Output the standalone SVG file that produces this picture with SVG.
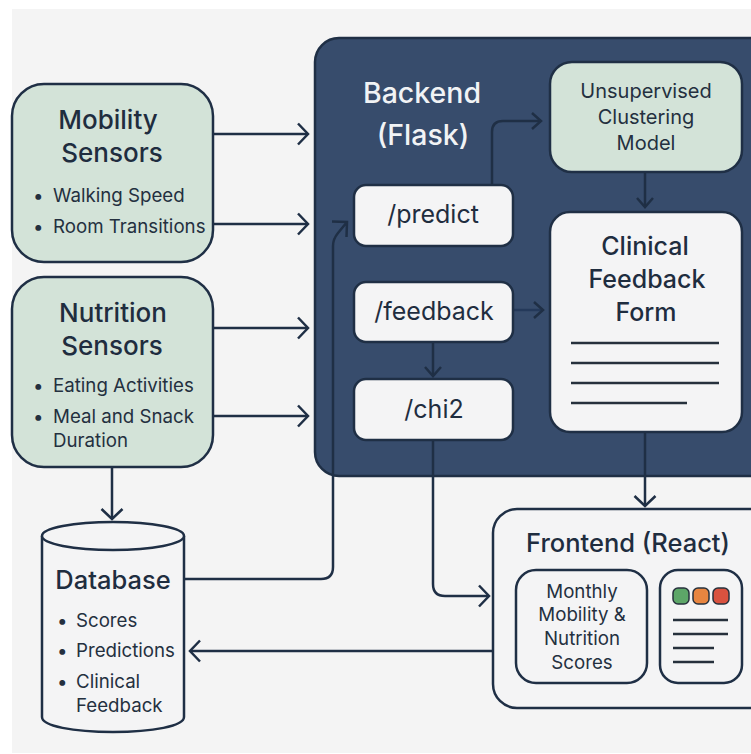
<svg xmlns="http://www.w3.org/2000/svg" width="751" height="754" viewBox="0 0 751 754">
<defs>
<style>
text{font-family:Inter,"Liberation Sans",sans-serif;fill:#24303f}
.t{font-size:26px;font-weight:500;text-anchor:middle;fill:#1f2d3f}
.b{font-size:18.7px}
.c{text-anchor:middle}
.m{font-size:20px}
.api{font-size:25px;text-anchor:middle;fill:#1f2d3f}
.w{font-size:28.5px;font-weight:500;text-anchor:middle;fill:#f1f3f5}
.box{stroke:#1f2f45;stroke-width:2.5}
.g{fill:#d3e3d8}
.l{fill:#f4f4f5}
.cn{fill:none;stroke:#1f2f45;stroke-width:2.5}
.ln{fill:none;stroke:#26303c;stroke-width:2.5}
</style>
<marker id="a" markerUnits="userSpaceOnUse" markerWidth="24" markerHeight="28" refX="21" refY="14" orient="auto"><path d="M11 3.5L21 14L11 24.5" fill="none" stroke="#1f2f45" stroke-width="2.5"/></marker>
<marker id="s" markerUnits="userSpaceOnUse" markerWidth="24" markerHeight="28" refX="21" refY="14" orient="auto"><path d="M12 6L21 14L12 22" fill="none" stroke="#1f2f45" stroke-width="2.5"/></marker>
</defs>
<rect width="751" height="754" fill="#ffffff"/>
<rect x="12" y="9" width="739" height="744" fill="#f4f4f4"/>
<g id="backend"><rect class="box" x="315" y="38" width="460" height="438" rx="24" fill="#374c6c"/>
<text class="w"><tspan x="422" y="103">Backend</tspan><tspan x="423" y="145">(Flask)</tspan></text></g>
<g id="connectors">
<path class="cn" marker-end="url(#a)" d="M213 134H308"/>
<path class="cn" marker-end="url(#a)" d="M213 224H308"/>
<path class="cn" marker-end="url(#a)" d="M213 328H308"/>
<path class="cn" marker-end="url(#a)" d="M213 416H308"/>
<path class="cn" marker-end="url(#a)" d="M112 467V519"/>
<path class="cn" d="M185 579H321Q333 579 333 567V246Q333 239 338 233L347 222M332 221.500L347 222L346.500 237"/>
<path class="cn" marker-end="url(#s)" d="M492 185V132Q492 121 503 121H541"/>
<path class="cn" marker-end="url(#s)" d="M514 310H543" style="stroke:#24395a"/>
<path class="cn" marker-end="url(#s)" d="M433 342V376"/>
<path class="cn" marker-end="url(#s)" d="M645 172V207"/>
<path class="cn" marker-end="url(#a)" d="M645 432V506"/>
<path class="cn" marker-end="url(#a)" d="M433 440V584Q433 596 445 596H489"/>
<path class="cn" marker-end="url(#a)" d="M493 651H190"/>
</g>
<g id="mobility"><rect class="box g" x="12" y="84" width="201" height="178" rx="32"/>
<text class="t"><tspan x="108" y="129">Mobility</tspan><tspan x="112" y="162">Sensors</tspan></text>
<text class="b"><tspan x="33" y="202">•</tspan><tspan x="53" y="202">Walking Speed</tspan></text>
<text class="b"><tspan x="33" y="233">•</tspan><tspan x="53" y="233">Room Transitions</tspan></text></g>
<g id="nutrition"><rect class="box g" x="12" y="277" width="201" height="190" rx="32"/>
<text class="t"><tspan x="113" y="322">Nutrition</tspan><tspan x="112" y="355">Sensors</tspan></text>
<text class="b"><tspan x="33" y="392">•</tspan><tspan x="53" y="392">Eating Activities</tspan></text>
<text class="b"><tspan x="33" y="423">•</tspan><tspan x="53" y="423">Meal and Snack</tspan><tspan x="53" y="447">Duration</tspan></text></g>
<g id="database"><path class="box" fill="#f4f4f5" d="M42 536V717C42 726 73 732 113 732S184 726 184 717V536"/>
<ellipse class="box" cx="113" cy="536" rx="71" ry="14" fill="#f4f4f5"/>
<text class="t" style="font-size:25.500px"><tspan x="113" y="589">Database</tspan></text>
<text class="b"><tspan x="57" y="627">•</tspan><tspan x="76" y="627">Scores</tspan></text>
<text class="b"><tspan x="57" y="657">•</tspan><tspan x="76" y="657">Predictions</tspan></text>
<text class="b"><tspan x="57" y="688">•</tspan><tspan x="76" y="688">Clinical</tspan><tspan x="76" y="712">Feedback</tspan></text></g>
<g id="predict"><rect class="box l" x="354" y="185" width="159" height="61" rx="12"/><text class="api" x="433" y="223">/predict</text></g>
<g id="feedback"><rect class="box l" x="354" y="282" width="159" height="60" rx="12"/><text class="api" x="434" y="320">/feedback</text></g>
<g id="chi2"><rect class="box l" x="354" y="379" width="159" height="61" rx="12"/><text class="api" x="434" y="418">/chi2</text></g>
<g id="model"><rect class="box g" x="550" y="62" width="192" height="110" rx="22"/>
<text class="m c"><tspan x="646" y="98">Unsupervised</tspan><tspan x="646" y="124">Clustering</tspan><tspan x="646" y="150">Model</tspan></text></g>
<g id="form"><rect class="box l" x="550" y="212" width="192" height="220" rx="20"/>
<text class="t" style="font-size:25px"><tspan x="645" y="255">Clinical</tspan><tspan x="647" y="288">Feedback</tspan><tspan x="646" y="321">Form</tspan></text>
<path class="ln" d="M571 343H719M571 363H719M571 383H719M571 403H687"/></g>
<g id="frontend"><rect class="box l" x="493" y="509" width="290" height="199" rx="24"/>
<text class="t" style="font-size:25.500px" x="628" y="552">Frontend (React)</text>
<g id="scores"><rect class="box l" x="516" y="570" width="131" height="113" rx="20"/>
<text class="m c" style="font-size:18.700px"><tspan x="582" y="598">Monthly</tspan><tspan x="582" y="621">Mobility &amp;</tspan><tspan x="582" y="645">Nutrition</tspan><tspan x="582" y="669">Scores</tspan></text></g>
<g id="panel"><rect class="box l" x="660" y="570" width="82" height="113" rx="18"/>
<rect x="673" y="588" width="16" height="16" rx="5" fill="#5da668" stroke="#26303c" stroke-width="1.5"/>
<rect x="693" y="588" width="16" height="16" rx="5" fill="#e88540" stroke="#26303c" stroke-width="1.5"/>
<rect x="713" y="588" width="16" height="16" rx="5" fill="#d9523f" stroke="#26303c" stroke-width="1.5"/>
<path class="ln" d="M673 620H728M673 634H728M673 648H714M673 662H714"/></g></g>
</svg>
